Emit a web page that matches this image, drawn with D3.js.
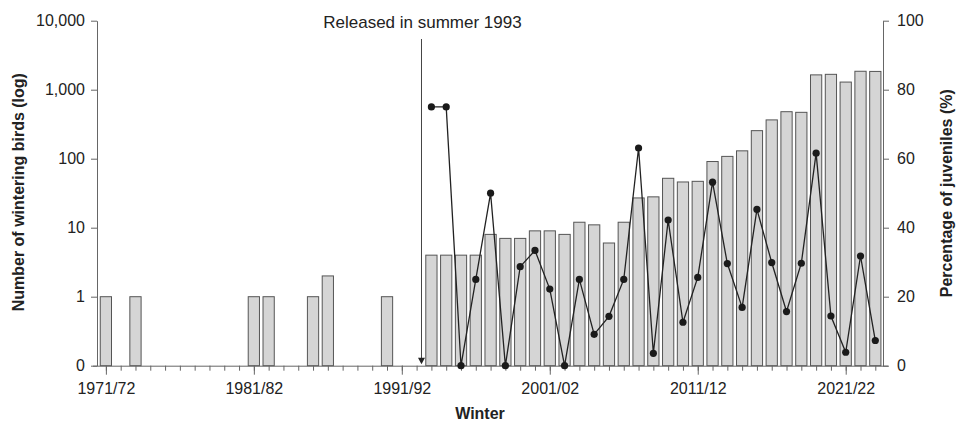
<!DOCTYPE html>
<html>
<head>
<meta charset="utf-8">
<script src="https://cdn.jsdelivr.net/npm/d3@7"></script>
<style>
  html, body { margin: 0; padding: 0; background: #fff; }
  svg { display: block; font-family: "Liberation Sans", Arial, Helvetica, sans-serif; }
</style>
</head>
<body>
<svg id="chart" width="957" height="428"></svg>
<script>
// ---- data ----
const years = d3.range(1971, 2024); // winter starting year, 1971/72 ... 2023/24
const birds = [
  1, 0, 1, 0, 0, 0, 0, 0, 0, 0,        // 1971-1980
  1, 1, 0, 0, 1, 2, 0, 0, 0, 1,        // 1981-1990
  0, 0, 4, 4, 4, 4, 8, 7, 7, 9,        // 1991-2000
  9, 8, 12, 11, 6, 12, 27, 28, 52, 46, // 2001-2010
  47, 91, 108, 130, 255, 365, 480, 470, 1640, 1670, // 2011-2020
  1290, 1850, 1840                     // 2021-2023
];
const juvYears = d3.range(1993, 2024);
const juveniles = [
  75, 75, 0, 25, 50, 0, 28.7, 33.4, 22.2, 0,
  25, 9.1, 14.3, 25, 63.1, 3.6, 42.2, 12.6, 25.6, 53.2,
  29.6, 16.9, 45.3, 29.9, 15.7, 29.7, 61.6, 14.4, 3.9, 31.8,
  7.3
];
const leftTicks = [0.1, 1, 10, 100, 1000, 10000];
const leftTickLabels = ["0", "1", "10", "100", "1,000", "10,000"];
const rightTicks = [0, 20, 40, 60, 80, 100];
const majorYears = [1971, 1981, 1991, 2001, 2011, 2021];
const majorLabels = ["1971/72", "1981/82", "1991/92", "2001/02", "2011/12", "2021/22"];
const releaseYear = 1992.33;

(function () {
// ---- layout ----
const svg = d3.select("#chart");
const mLeft = 97, mRight = 883, mTop = 20.7, mBottom = 365.7;
const axisColor = "#666";
const textColor = "#222";
const fs = "16px";

const x = d3.scaleLinear().domain([1970.4, 2023.52]).range([mLeft, mRight]);
const y = d3.scaleLog().domain([0.1, 10000]).range([mBottom, mTop]);
const yR = d3.scaleLinear().domain([0, 100]).range([mBottom, mTop]);
const step = x(1) - x(0);
const barW = step * 0.76;

// bars
svg.append("g").selectAll("rect")
  .data(years.map((yr, i) => ({ yr, v: birds[i] })).filter(d => d.v > 0))
  .join("rect")
  .attr("x", d => x(d.yr) - barW / 2)
  .attr("width", barW)
  .attr("y", d => y(d.v))
  .attr("height", d => y(0.1) - y(d.v))
  .attr("fill", "#d5d5d5")
  .attr("stroke", "#555")
  .attr("stroke-width", 1);

// left axis
const gL = svg.append("g").attr("transform", `translate(${mLeft},0)`)
  .call(d3.axisLeft(y).tickValues(leftTicks)
    .tickFormat((d, i) => leftTickLabels[i]).tickSize(6).tickSizeOuter(0).tickPadding(6));
// right axis
const gR = svg.append("g").attr("transform", `translate(${mRight},0)`)
  .call(d3.axisRight(yR).tickValues(rightTicks).tickSize(6).tickSizeOuter(0).tickPadding(8));
// bottom axis: minor ticks each year
const gB = svg.append("g").attr("transform", `translate(0,${mBottom})`)
  .call(d3.axisBottom(x).tickValues(years).tickFormat("").tickSize(5).tickSizeOuter(0));
gB.select(".domain").attr("d", `M${mLeft - 4},0.5H${mRight + 5}`);
const gBM = svg.append("g").attr("transform", `translate(0,${mBottom})`)
  .call(d3.axisBottom(x).tickValues(majorYears)
    .tickFormat((d, i) => majorLabels[i]).tickSize(9).tickSizeOuter(0).tickPadding(8));
gBM.select(".domain").remove();

[gL, gR, gB, gBM].forEach(g => {
  g.selectAll(".domain").attr("stroke", axisColor);
  g.selectAll(".tick line").attr("stroke", axisColor);
  g.selectAll(".tick text").attr("fill", textColor)
    .style("font-size", fs).style("font-family", '"Liberation Sans", Arial, sans-serif');
});

// release line + arrow
const ax = x(releaseYear);
svg.append("line")
  .attr("x1", ax).attr("x2", ax)
  .attr("y1", 39).attr("y2", mBottom - 6)
  .attr("stroke", "#444").attr("stroke-width", 1);
svg.append("path")
  .attr("d", `M${ax - 3.5},${mBottom - 8}L${ax + 3.5},${mBottom - 8}L${ax},${mBottom - 1.5}Z`)
  .attr("fill", "#222");
svg.append("text")
  .attr("x", ax + 1).attr("y", 28)
  .attr("text-anchor", "middle")
  .attr("fill", textColor)
  .style("font-size", "17px")
  .text("Released in summer 1993");

// juvenile line
const line = d3.line().x(d => x(d.yr)).y(d => yR(d.v));
const juv = juvYears.map((yr, i) => ({ yr, v: juveniles[i] }));
svg.append("path").datum(juv)
  .attr("d", line).attr("fill", "none")
  .attr("stroke", "#222").attr("stroke-width", 1.3);
svg.append("g").selectAll("circle").data(juv).join("circle")
  .attr("cx", d => x(d.yr)).attr("cy", d => yR(d.v)).attr("r", 3.6)
  .attr("fill", "#1a1a1a");

// axis titles
svg.append("text")
  .attr("transform", `translate(24,${(mTop + mBottom) / 2 - 1}) rotate(-90)`)
  .attr("text-anchor", "middle").attr("fill", textColor)
  .style("font-size", fs).style("font-weight", "bold")
  .text("Number of wintering birds (log)");
svg.append("text")
  .attr("transform", `translate(952,${(mTop + mBottom) / 2}) rotate(-90)`)
  .attr("text-anchor", "middle").attr("fill", textColor)
  .style("font-size", fs).style("font-weight", "bold")
  .text("Percentage of juveniles (%)");
svg.append("text")
  .attr("x", 480).attr("y", 419)
  .attr("text-anchor", "middle").attr("fill", textColor)
  .style("font-size", fs).style("font-weight", "bold")
  .text("Winter");
})();
</script>
</body>
</html>
